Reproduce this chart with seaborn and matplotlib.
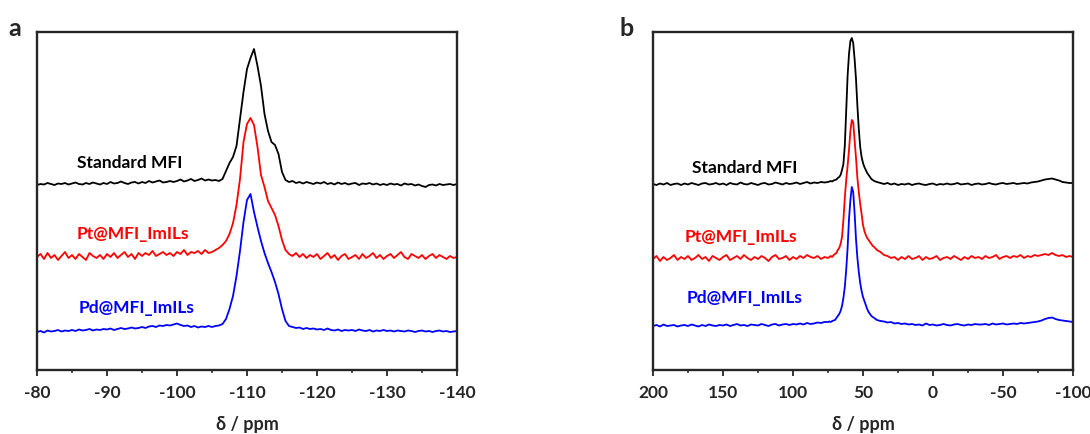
import numpy as np
import pandas as pd
import seaborn as sns
import matplotlib.pyplot as plt

# chemical shift grid, panel a (ppm)
shift_a = [
    -80.0, -80.5, -81.0, -81.5, -82.0, -82.5, -83.0, -83.5, -84.0, -84.5,
    -85.0, -85.5, -86.0, -86.5, -87.0, -87.5, -88.0, -88.5, -89.0, -89.5,
    -90.0, -90.5, -91.0, -91.5, -92.0, -92.5, -93.0, -93.5, -94.0, -94.5,
    -95.0, -95.5, -96.0, -96.5, -97.0, -97.5, -98.0, -98.5, -99.0, -99.5,
    -100.0, -100.5, -101.0, -101.5, -102.0, -102.5, -103.0, -103.5, -104.0, -104.5,
    -105.0, -105.5, -106.0, -106.5, -107.0, -107.5, -108.0, -108.5, -109.0, -109.5,
    -110.0, -110.5, -111.0, -111.5, -112.0, -112.5, -113.0, -113.5, -114.0, -114.5,
    -115.0, -115.5, -116.0, -116.5, -117.0, -117.5, -118.0, -118.5, -119.0, -119.5,
    -120.0, -120.5, -121.0, -121.5, -122.0, -122.5, -123.0, -123.5, -124.0, -124.5,
    -125.0, -125.5, -126.0, -126.5, -127.0, -127.5, -128.0, -128.5, -129.0, -129.5,
    -130.0, -130.5, -131.0, -131.5, -132.0, -132.5, -133.0, -133.5, -134.0, -134.5,
    -135.0, -135.5, -136.0, -136.5, -137.0, -137.5, -138.0, -138.5, -139.0, -139.5,
    -140.0,
]

# 29Si intensities (arbitrary units)
std_a = [
    -1, 0, -0.5, 1, 0, -1, 0.5, 0, 1, -0.5,
    0.5, 1.5, 0, -0.5, 1, 0, 1.5, 0.5, -0.5, 1,
    0, 2, 0.5, 1, 2.5, 1, 0, 1.5, 2, 0.5,
    2, 1, 3, 1.5, 2.5, 3.5, 1.5, 2, 3, 2,
    3, 4.5, 2.5, 3.5, 5, 3, 4, 5.5, 3.5, 4.5,
    3.5, 4, 3, 5, 13, 21, 27, 38, 65, 92,
    115, 126, 135, 118, 98, 70, 53, 42, 39, 30,
    12, 4, 2, 3, 1, 2, 0.5, 2, 1, 0,
    1.5, 0.5, 2, 0, 1, -0.5, 1.5, 0, 1, -0.5,
    0.5, 1, -1, 0.5, 0, 1, -0.5, 0.5, -1, 0,
    -1, 0.5, -0.5, 0, -1.5, 0.5, -0.5, 0, -1.5, -0.5,
    -2, -3, -1, -0.5, -1.5, 0, -1, -0.5, 0, -1,
    0,
]
pt_a = [
    0, 3, -2, 4, -1, 2, -3, 1, 5, -1,
    2, -2, 3, 0, -3, 4, 1, -1, 2, -2,
    3, 0, 4, -1, 2, 5, 0, 3, -2, 4,
    1, 4, 2, 6, 1, 3, 5, 2, 4, 1,
    5, 3, 7, 2, 5, 4, 6, 3, 7, 4,
    5, 7, 9, 12, 16, 23, 34, 52, 78, 115,
    133, 139, 132, 110, 82, 70, 56, 49, 42, 31,
    17, 7, 3, 1, 4, 0, 3, -1, 2, 0,
    3, -2, 1, 4, -1, 2, -3, 1, 3, -2,
    0, 2, -2, 3, -1, 1, 4, -1, 2, -2,
    1, 3, -1, 2, 5, 0, -2, 3, 1, -1,
    2, -2, 1, 3, -1, 2, 0, -2, 1, -1,
    0,
]
pd_a = [
    -1, 0, -1.5, 0.5, -0.5, 0, 1, -0.5, 0.5, 0,
    1, 0, 1.5, 0.5, 1, 2, 0.5, 1.5, 1, 2,
    1.5, 2.5, 1, 2, 3, 2, 2.5, 3.5, 2.5, 3,
    4, 3, 4.5, 5, 4, 5.5, 5, 6, 5.5, 6.5,
    7.5, 6, 5, 5.5, 4, 5, 3.5, 4.5, 4, 5,
    4, 5, 5.5, 7, 12, 22, 35, 55, 80, 109,
    131, 137, 119, 104, 90, 78, 68, 59, 49, 37,
    22, 10, 5, 4, 3, 3.5, 2, 3, 2, 2.5,
    1.5, 2, 1, 2.5, 1, 0.5, 1.5, 0, 1, 0.5,
    1, 0, 1.5, 0.5, 0, 1, -0.5, 0.5, 0, 1,
    0, 0.5, -0.5, 0.5, 0, -0.5, 0.5, 0, -1, 0,
    0.5, -0.5, 0, -1, 0, 0.5, -0.5, 0, -1, -0.5,
    0,
]

# chemical shift grid, panel b (ppm)
shift_b = [
    200, 197.5, 195, 192.5, 190, 187.5, 185, 182.5, 180, 177.5,
    175, 172.5, 170, 167.5, 165, 162.5, 160, 157.5, 155, 152.5,
    150, 147.5, 145, 142.5, 140, 137.5, 135, 132.5, 130, 127.5,
    125, 122.5, 120, 117.5, 115, 112.5, 110, 107.5, 105, 102.5,
    100, 97.5, 95, 92.5, 90, 87.5, 85, 82.5, 80, 77.5,
    75,
    74, 73, 72, 71, 70, 69, 68, 67, 66, 65, 64,
    63, 62, 61, 60, 59, 58, 57, 56, 55, 54, 53,
    52, 51, 50, 49, 48, 47, 46, 45, 44, 43, 42,
    40, 37.5, 35, 32.5, 30, 27.5, 25, 22.5, 20, 17.5,
    15, 12.5, 10, 7.5, 5, 2.5, 0, -2.5, -5, -7.5,
    -10, -12.5, -15, -17.5, -20, -22.5, -25, -27.5, -30, -32.5,
    -35, -37.5, -40, -42.5, -45, -47.5, -50, -52.5, -55, -57.5,
    -60, -62.5, -65, -67.5, -70, -72.5, -75, -77.5, -80, -82.5,
    -85, -87.5, -90, -92.5, -95, -97.5,
    -100,
]

std_b = [
    0, -1, 0.5, -0.5, 1, -1, 0, 0.5, -1, 0.5,
    -0.5, 1, 0, -1, 0.5, 1, -0.5, 0, 1, -0.5,
    0.5, -1, 1, 0, -0.5, 1.5, 0, -0.5, 1, 0,
    -1, 0.5, 1, -0.5, 0, 1.5, 0.5, -0.5, 1, 0,
    0.5, 1.5, 0, 1, 2, 0.5, 1.5, 1, 2, 1.5,
    2,
    2.5, 3, 2.5, 3.5, 4, 4.5, 6, 7, 9, 14, 20,
    38, 72, 108, 130, 143, 146, 141, 125, 105, 78, 55,
    37, 27, 21, 17, 14, 11, 9, 7, 5, 4, 3,
    2, 1, 0, 1, -0.5, 0.5, -1, 0, -0.5, 0.5,
    -1, 0, 0.5, -0.5, -1, 0, 0.5, -1, 0, -0.5,
    0.5, -0.5, 0, 1, -0.5, 0, 0.5, -1, 0, 0.5,
    -0.5, 0, 1, 0, -0.5, 0.5, 1, 0, 0.5, 1,
    0, 0.5, 1, 0.5, 1.5, 2, 2.5, 3.5, 4.5, 5,
    5.5, 4.5, 3.5, 2, 1.5, 1,
    1,
]
pt_b = [
    -1, 2, -3, 1, -2, 0, 3, -2, 1, -1,
    2, -2, 0, 3, -1, 1, -3, 2, 0, -2,
    1, 3, -2, 0, 2, -1, 3, 0, -2, 1,
    -1, 2, 0, -3, 1, 3, -1, 0, 2, -2,
    1, -1, 2, 0, 3, 1, 0, 2, -1, 1,
    0,
    1, 2, 1, 3, 4, 5, 8, 10, 14, 21, 38,
    60, 78, 92, 108, 127, 138, 136, 118, 100, 80, 66,
    54, 44, 33, 27, 23, 20, 18, 16, 14, 12, 11,
    8, 6, 3, 2, 0, 1, -2, 1, -1, 2,
    -1, 0, 2, -2, 1, -1, 0, 2, -2, 0,
    1, -1, 2, 0, -2, 1, -1, 2, 0, 1,
    -1, 2, 0, 1, 3, -1, 1, 2, 0, 2,
    1, 3, 0, 2, 1, 3, 2, 3, 4, 3,
    5, 3, 2, 3, 1, 2,
    1,
]
pd_b = [
    -1, 0, -1.5, 0.5, -1, -0.5, 0, -1.5, -0.5, 0,
    -1, 0.5, -0.5, -1.5, 0, -1, 0.5, -0.5, -1, 0,
    -0.5, 0.5, -1, 0, 1, -0.5, 0, -1, 0.5, 0,
    -0.5, 1, 0, -1, 0.5, 1, -0.5, 0.5, 1, 0,
    1, 0.5, 1.5, 0.5, 2, 1, 1.5, 2.5, 2, 3,
    3,
    3.5, 3, 4, 4.5, 5, 7, 9, 11, 14, 19, 27,
    38, 55, 77, 106, 125, 138, 133, 112, 86, 67, 53,
    42, 34, 28, 24, 20, 16, 13, 11, 9, 8, 7,
    5, 4, 3.5, 2.5, 3, 1.5, 2, 1, 1.5, 0.5,
    1, 0, 0.5, -0.5, 1.5, 0, 0.5, -0.5, 0, 1,
    0, -0.5, 0.5, 1, 0, -0.5, 0.5, 0, 1, 0.5,
    0.5, 1, 0, 1.5, 0.5, 1, 1.5, 0.5, 1, 1.5,
    1, 2, 1.5, 2, 2.5, 3, 3.5, 4.5, 6, 7,
    7.5, 6, 5, 4.5, 4, 3.5,
    3,
]

samples = ['Standard MFI', 'Pt@MFI_ImILs', 'Pd@MFI_ImILs']
colors = ['#000000', '#ff0000', '#0000ff']
offsets_a = [186, 113, 39]
offsets_b = [186, 112, 45]

sns.set_style('ticks')
plt.rcParams['font.family'] = ['Lato', 'DejaVu Sans']
plt.rcParams['font.weight'] = 'bold'
plt.rcParams['axes.unicode_minus'] = False

fig = plt.figure(figsize=(10.9, 4.35), dpi=100)
ax_a = fig.add_axes([37 / 1090, 64 / 435, 420 / 1090, 338 / 435])
ax_b = fig.add_axes([653 / 1090, 64 / 435, 420 / 1090, 338 / 435])


def draw_panel(ax, shift, curves, offsets, xlim, major, label_pos):
    for name, vals, off, col, (lx, ly) in zip(samples, curves, offsets, colors, label_pos):
        y = np.array(vals, dtype=float) + off
        sns.lineplot(x=shift, y=y, ax=ax, color=col, lw=1.3, estimator=None, sort=False)
        ax.text(lx, ly, name, color=col, fontsize=12.5, fontweight='bold', va='center', ha='left')

    ax.set_xlim(*xlim)
    ax.set_ylim(0, 338)
    ax.set_xticks(major)
    ax.set_xticks([(a + b) / 2 for a, b in zip(major[:-1], major[1:])], minor=True)
    ax.set_yticks([])
    ax.set_ylabel('')
    ax.set_xlabel('δ / ppm', fontsize=13, fontweight='bold', labelpad=11)
    ax.tick_params(axis='x', which='major', direction='out', length=4, width=1.3,
                   labelsize=12.5, pad=6)
    ax.tick_params(axis='x', which='minor', direction='out', length=2.5, width=1.1)
    for lbl in ax.get_xticklabels():
        lbl.set_fontweight('bold')
    for sp in ax.spines.values():
        sp.set_visible(True)
        sp.set_linewidth(1.7)


draw_panel(ax_a, shift_a, [std_a, pt_a, pd_a], offsets_a, (-80, -140),
           [-80, -90, -100, -110, -120, -130, -140],
           [(-85.7, 208), (-85.7, 137), (-86.0, 63)])
draw_panel(ax_b, shift_b, [std_b, pt_b, pd_b], offsets_b, (200, -100),
           [200, 150, 100, 50, 0, -50, -100],
           [(172.1, 203), (177.1, 134), (175.7, 73)])

fig.text(15 / 1090, 1 - 28 / 435, 'a', fontsize=18, fontweight='bold', ha='center', va='center')
fig.text(627 / 1090, 1 - 28 / 435, 'b', fontsize=18, fontweight='bold', ha='center', va='center')

fig.savefig('out.png', dpi=100)
